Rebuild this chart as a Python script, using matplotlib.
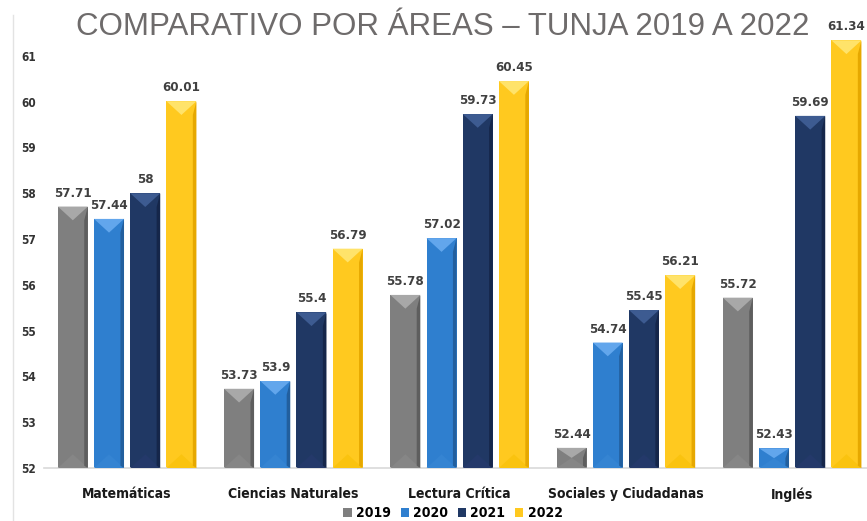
import matplotlib
matplotlib.use("Agg")
import matplotlib.pyplot as plt
from matplotlib.patches import Polygon
from matplotlib.lines import Line2D
import numpy as np

categories = ["Matemáticas", "Ciencias Naturales", "Lectura Crítica", "Sociales y Ciudadanas", "Inglés"]
years = ["2019", "2020", "2021", "2022"]
v2019 = [57.71, 53.73, 55.78, 52.44, 55.72]
v2020 = [57.44, 53.90, 57.02, 54.74, 52.43]
v2021 = [58.00, 55.40, 59.73, 55.45, 59.69]
v2022 = [60.01, 56.79, 60.45, 56.21, 61.34]
labels2019 = ["57.71", "53.73", "55.78", "52.44", "55.72"]
labels2020 = ["57.44", "53.9", "57.02", "54.74", "52.43"]
labels2021 = ["58", "55.4", "59.73", "55.45", "59.69"]
labels2022 = ["60.01", "56.79", "60.45", "56.21", "61.34"]
yticks = [52, 53, 54, 55, 56, 57, 58, 59, 60, 61]

series = [v2019, v2020, v2021, v2022]
series_labels = [labels2019, labels2020, labels2021, labels2022]
body = ["#7f7f7f", "#2f7fcf", "#203864", "#ffc91f"]
light = ["#a8a8a8", "#62a6ec", "#3d5b91", "#ffe36a"]
dark = ["#5e5e5e", "#225f9e", "#15264a", "#e6a800"]
bottomc = ["#868686", "#3584d2", "#24396a", "#fac30f"]

plt.rcParams['font.family'] = ['DejaVu Sans']
plt.rcParams['font.stretch'] = 'condensed'

W, H = 867, 521
fig = plt.figure(figsize=(W / 100, H / 100), dpi=100)
ax_left, ax_bottom, ax_w, ax_h = 44, 53, 823, 435
ax = fig.add_axes([ax_left / W, ax_bottom / H, ax_w / W, ax_h / H])

group_px = 166.25
x = np.arange(len(categories))
pitch = 36.2 / group_px
width = 30 / group_px
ymin, ymax = 52, 61.5
ax.set_ylim(ymin, ymax)
ax.set_xlim(-0.5, -0.5 + ax_w / group_px)

for i, vals in enumerate(series):
    pos = x + (i - 1.5) * pitch
    bars = ax.bar(pos, np.array(vals) - ymin, width, bottom=ymin, color=body[i],
                  edgecolor="none", label=years[i], zorder=2)
    for b, lab in zip(bars, series_labels[i]):
        bx, by, bw, bh = b.get_x(), b.get_y(), b.get_width(), b.get_height()
        top = by + bh
        d = min(0.3, bh / 2)
        ax.add_patch(Polygon([(bx, by), (bx + bw, by), (bx + bw / 2, by + d)],
                             closed=True, facecolor=bottomc[i], edgecolor="none", zorder=3))
        ax.add_patch(Polygon([(bx + bw, top), (bx + bw, by), (bx + bw * 0.88, by + 0.05), (bx + bw * 0.88, top - d)],
                             closed=True, facecolor=dark[i], edgecolor="none", zorder=3))
        ax.add_patch(Polygon([(bx, top), (bx + bw, top), (bx + bw / 2, top - d)],
                             closed=True, facecolor=light[i], edgecolor="none", zorder=3))
        ax.annotate(lab, (bx + bw / 2, top), xytext=(0, 5), textcoords="offset points",
                    ha="center", va="bottom", fontsize=9.5, fontweight="bold",
                    color="#404040", annotation_clip=False, zorder=4)

ax.set_yticks(yticks)
ax.set_yticklabels([str(t) for t in yticks], fontsize=8.5, fontweight="bold", color="#333333")
ax.set_xticks(x)
ax.set_xticklabels(categories, fontsize=10, fontweight="bold", color="#1a1a1a")
ax.tick_params(axis="both", length=0)
ax.tick_params(axis="x", pad=14)
ax.tick_params(axis="y", pad=6)
for s in ["top", "right", "left"]:
    ax.spines[s].set_visible(False)
ax.spines["bottom"].set_color("#d9d9d9")
ax.spines["bottom"].set_linewidth(1.2)

fig.add_artist(Line2D([13 / W, 13 / W], [0, 1 - 15 / H], color="#e3e3e3", lw=1))

fig.text(443 / W, 1 - 27 / H, "COMPARATIVO POR ÁREAS – TUNJA 2019 A 2022",
         ha="center", va="center", fontsize=22.5, color="#6e6b6b",
         family=["Liberation Sans", "DejaVu Sans"], fontstretch="normal")

handles = [plt.Rectangle((0, 0), 1, 1, facecolor=body[i], edgecolor="none") for i in range(4)]
fig.legend(handles, years, loc="center", bbox_to_anchor=(453 / W, 1 - 513 / H), ncol=4,
           frameon=False, prop={"weight": "bold", "size": 10, "stretch": "condensed"},
           handlelength=0.6, handleheight=0.6, handletextpad=0.3, columnspacing=0.7,
           borderaxespad=0, borderpad=0)

fig.savefig("out.png", dpi=100, facecolor="white")
